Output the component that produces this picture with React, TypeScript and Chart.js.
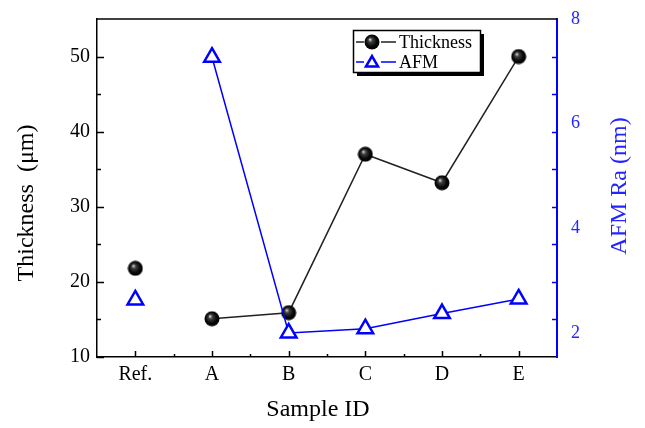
import React, { useEffect, useRef } from 'react';
import { Chart, registerables } from 'chart.js';

Chart.register(...registerables);

// ---- data ----
const categories = ['Ref.', 'A', 'B', 'C', 'D', 'E'];
const thickness = [21.8, 15.1, 15.9, 37.0, 33.2, 50.0];
const afmRa = [2.63, 7.27, 2.0, 2.08, 2.37, 2.65];
const thicknessTicks = [10, 20, 30, 40, 50];
const thicknessMinorTicks = [15, 25, 35, 45];
const afmTicks = [2, 4, 6, 8];
// right-axis tick marks sit at these left-axis values in the original
const rightTickMarks = [15, 20, 25, 30, 35, 40, 45, 50];

const SERIF = '"Liberation Serif", "Times New Roman", serif';
const BLUE = '#0000ff';
const BLUE_TEXT = '#2424ff';

function makeSphere(): HTMLCanvasElement {
  const c = document.createElement('canvas');
  c.width = 16;
  c.height = 16;
  const g = c.getContext('2d')!;
  const grad = g.createRadialGradient(6, 5.5, 0.5, 8, 8, 8);
  grad.addColorStop(0, '#c8c8c8');
  grad.addColorStop(0.22, '#404040');
  grad.addColorStop(0.65, '#080808');
  grad.addColorStop(1, '#000');
  g.fillStyle = grad;
  g.beginPath();
  g.arc(8, 8, 7.5, 0, Math.PI * 2);
  g.fill();
  return c;
}

function drawTriangle(ctx: CanvasRenderingContext2D, x: number, y: number, r: number) {
  ctx.beginPath();
  for (let i = 0; i < 3; i++) {
    const a = (i * 2 * Math.PI) / 3;
    const px = x + Math.sin(a) * r;
    const py = y - Math.cos(a) * r;
    if (i === 0) ctx.moveTo(px, py);
    else ctx.lineTo(px, py);
  }
  ctx.closePath();
  ctx.fillStyle = '#fff';
  ctx.fill();
  ctx.lineWidth = 2.5;
  ctx.strokeStyle = BLUE;
  ctx.stroke();
}

export default function App() {
  const ref = useRef<HTMLCanvasElement | null>(null);

  useEffect(() => {
    document.body.style.margin = '0';
    const canvas = ref.current;
    if (!canvas) return;
    const sphere = makeSphere();

    const decorPlugin = {
      id: 'decor',
      afterDraw(chart: any) {
        const { ctx, chartArea: a, scales } = chart;
        const xs = scales.x;
        const ys = scales.y;
        ctx.save();
        // top border
        ctx.strokeStyle = '#000';
        ctx.lineWidth = 1.5;
        ctx.beginPath();
        ctx.moveTo(a.left, a.top);
        ctx.lineTo(a.right, a.top);
        ctx.stroke();

        // left ticks (inward)
        ctx.beginPath();
        thicknessTicks.forEach((v) => {
          const py = Math.round(ys.getPixelForValue(v)) + 0.5;
          ctx.moveTo(a.left, py);
          ctx.lineTo(a.left + 7, py);
        });
        thicknessMinorTicks.forEach((v) => {
          const py = Math.round(ys.getPixelForValue(v)) + 0.5;
          ctx.moveTo(a.left, py);
          ctx.lineTo(a.left + 4, py);
        });
        // bottom ticks (inward)
        const step = xs.getPixelForValue(1) - xs.getPixelForValue(0);
        categories.forEach((_, i) => {
          const px = Math.round(xs.getPixelForValue(i)) + 0.5;
          ctx.moveTo(px, a.bottom);
          ctx.lineTo(px, a.bottom - 6);
          if (i < categories.length - 1) {
            const mx = Math.round(xs.getPixelForValue(i) + step / 2) + 0.5;
            ctx.moveTo(mx, a.bottom);
            ctx.lineTo(mx, a.bottom - 3);
          }
        });
        ctx.stroke();

        // right ticks (inward, blue)
        ctx.strokeStyle = BLUE;
        ctx.beginPath();
        rightTickMarks.forEach((v) => {
          const py = Math.round(ys.getPixelForValue(v)) + 0.5;
          ctx.moveTo(a.right, py);
          ctx.lineTo(a.right - 5, py);
        });
        ctx.stroke();

        // axis titles
        ctx.fillStyle = '#000';
        ctx.font = `24px ${SERIF}`;
        ctx.textAlign = 'center';
        ctx.textBaseline = 'middle';
        ctx.fillText('Sample ID', 318, 410);

        ctx.save();
        ctx.translate(27, 203);
        ctx.rotate(-Math.PI / 2);
        ctx.fillText('Thickness  (\u03bcm)', 0, 0);
        ctx.restore();

        ctx.save();
        ctx.fillStyle = BLUE_TEXT;
        ctx.translate(620, 186);
        ctx.rotate(-Math.PI / 2);
        ctx.fillText('AFM Ra (nm)', 0, 0);
        ctx.restore();

        // legend box
        const bx = 353, by = 30, bw = 127, bh = 42;
        ctx.fillStyle = '#000';
        ctx.fillRect(bx + 4, by + 4, bw, bh);
        ctx.fillStyle = '#fff';
        ctx.fillRect(bx, by, bw, bh);
        ctx.strokeStyle = '#000';
        ctx.lineWidth = 1.5;
        ctx.strokeRect(bx + 0.5, by + 0.5, bw, bh);

        // legend entries
        const r1 = 42, r2 = 62;
        ctx.lineWidth = 1.5;
        ctx.strokeStyle = '#222';
        ctx.beginPath();
        ctx.moveTo(356, r1); ctx.lineTo(364, r1);
        ctx.moveTo(381, r1); ctx.lineTo(396, r1);
        ctx.stroke();
        ctx.drawImage(sphere, 372 - 8, r1 - 8);
        ctx.strokeStyle = BLUE;
        ctx.beginPath();
        ctx.moveTo(356, r2); ctx.lineTo(364, r2);
        ctx.moveTo(381, r2); ctx.lineTo(396, r2);
        ctx.stroke();
        drawTriangle(ctx, 372, r2 + 1, 7);

        ctx.fillStyle = '#000';
        ctx.font = `18px ${SERIF}`;
        ctx.textAlign = 'left';
        ctx.textBaseline = 'middle';
        ctx.fillText('Thickness', 399, r1 + 1);
        ctx.fillText('AFM', 399, r2 + 1);
        ctx.restore();
      },
    };

    const chart = new Chart(canvas, {
      type: 'line',
      data: {
        labels: categories,
        datasets: [
          {
            label: 'AFM',
            data: afmRa,
            yAxisID: 'y1',
            borderColor: BLUE,
            borderWidth: 1.5,
            pointStyle: 'triangle',
            pointRadius: 9,
            pointBorderWidth: 2.5,
            pointBorderColor: BLUE,
            pointBackgroundColor: '#fff',
            tension: 0,
            segment: {
              borderColor: (c: any) => (c.p0DataIndex === 0 ? 'rgba(0,0,0,0)' : BLUE),
            },
          },
          {
            label: 'Thickness',
            data: thickness,
            yAxisID: 'y',
            borderColor: '#222',
            borderWidth: 1.5,
            pointStyle: sphere,
            pointRadius: 8,
            tension: 0,
            segment: {
              borderColor: (c: any) => (c.p0DataIndex === 0 ? 'rgba(0,0,0,0)' : '#222'),
            },
          },
        ],
      },
      options: {
        responsive: false,
        animation: false,
        devicePixelRatio: 1,
        layout: { padding: { top: 19, left: 0, right: 0, bottom: 0 } },
        plugins: {
          legend: { display: false },
          tooltip: { enabled: false },
        },
        scales: {
          x: {
            type: 'category',
            offset: true,
            grid: { display: false, drawTicks: false },
            border: { display: true, color: '#000', width: 1.5 },
            ticks: {
              color: '#000',
              font: { family: SERIF, size: 20 },
              padding: 6,
              maxRotation: 0,
            },
            afterFit: (s: any) => {
              s.height = 71;
              s.paddingLeft = 0;
              s.paddingRight = 0;
            },
          },
          y: {
            type: 'linear',
            position: 'left',
            min: 10,
            max: 55,
            grid: { display: false, drawTicks: false },
            border: { display: true, color: '#000', width: 1.5 },
            ticks: {
              color: '#000',
              font: { family: SERIF, size: 20 },
              padding: 7,
            },
            afterBuildTicks: (s: any) => {
              s.ticks = thicknessTicks.map((v) => ({ value: v }));
            },
            afterFit: (s: any) => {
              s.width = 97;
              s.paddingTop = 0;
              s.paddingBottom = 0;
            },
          },
          y1: {
            type: 'linear',
            position: 'right',
            min: 1.54,
            max: 8,
            grid: { display: false, drawTicks: false },
            border: { display: true, color: BLUE, width: 2 },
            ticks: {
              color: BLUE_TEXT,
              font: { family: SERIF, size: 18 },
              padding: 14,
            },
            afterBuildTicks: (s: any) => {
              s.ticks = afmTicks.map((v) => ({ value: v }));
            },
            afterFit: (s: any) => {
              s.width = 88;
              s.paddingTop = 0;
              s.paddingBottom = 0;
            },
          },
        },
      },
      plugins: [decorPlugin],
    });

    return () => {
      chart.destroy();
    };
  }, []);

  return (
    <div style={{ width: 645, height: 428, background: '#fff' }}>
      <canvas ref={ref} width={645} height={428} style={{ display: 'block', width: 645, height: 428 }} />
    </div>
  );
}
